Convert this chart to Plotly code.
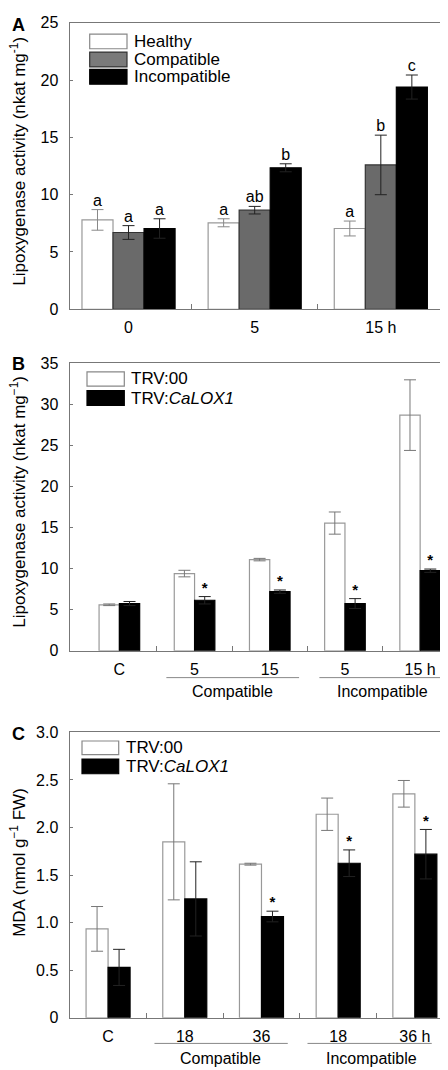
import plotly.graph_objects as go

# ---------------- data ----------------
a_cats = ["0", "5", "15 h"]
a_healthy = [7.8, 7.55, 7.05]
a_healthy_err = [0.9, 0.35, 0.65]
a_healthy_lbl = ["a", "a", "a"]
a_compat = [6.7, 8.65, 12.6]
a_compat_err = [0.6, 0.33, 2.6]
a_compat_lbl = ["a", "ab", "b"]
a_incomp = [7.05, 12.35, 19.4]
a_incomp_err = [0.85, 0.35, 1.05]
a_incomp_lbl = ["a", "b", "c"]

b_cats = ["C", "5", "15", "5", "15 h"]
b_trv00 = [5.6, 9.4, 11.1, 15.55, 28.7]
b_trv00_err = [0.1, 0.4, 0.15, 1.35, 4.3]
b_lox = [5.75, 6.15, 7.2, 5.75, 9.75]
b_lox_err = [0.25, 0.45, 0.2, 0.6, 0.2]
b_lox_sig = ["", "*", "*", "*", "*"]

c_cats = ["C", "18", "36", "18", "36 h"]
c_trv00 = [0.935, 1.85, 1.615, 2.14, 2.355]
c_trv00_err = [0.235, 0.61, 0.01, 0.17, 0.14]
c_lox = [0.53, 1.25, 1.065, 1.625, 1.72]
c_lox_err = [0.19, 0.39, 0.056, 0.14, 0.26]
c_lox_sig = ["", "", "*", "*", "*"]

group_names = ["Compatible", "Incompatible"]
y_titles = ["Lipoxygenase activity (nkat mg<sup>-1</sup>)",
            "Lipoxygenase activity (nkat mg<sup>−1</sup>)",
            "MDA (nmol g<sup>−1</sup> FW)"]

FONT = "Liberation Sans, Arial, Helvetica, sans-serif"
FS = 16
AX = "#777777"
WHITE_LINE = "#999999"
GRAY_FILL = "#6a6a6a"

fig = go.Figure()

def add_bars(xa, ya, xs, vals, errs, width, offset, fill, line, errcol):
    fig.add_trace(go.Bar(
        x=xs, y=vals, width=width, offset=offset,
        marker=dict(color=fill, line=dict(color=line, width=1.2)),
        error_y=dict(type="data", array=errs, visible=True, color=errcol,
                     thickness=1, width=6),
        xaxis=xa, yaxis=ya, showlegend=False, hoverinfo="skip"))

def add_text(xa, ya, xs, vals, errs, labels, dx, size=FS, bold=False):
    idx = [i for i, t in enumerate(labels) if t]
    fig.add_trace(go.Scatter(
        x=[xs[i] + dx for i in idx], y=[vals[i] + errs[i] for i in idx],
        text=[("<b>%s</b>" % labels[i]) if bold else labels[i] for i in idx],
        mode="text", textposition="top center",
        textfont=dict(family=FONT, size=size, color="black"),
        xaxis=xa, yaxis=ya, showlegend=False, hoverinfo="skip", cliponaxis=False))

# ---- Panel A ----
xa_pos = list(range(len(a_cats)))
wA = 0.246
add_bars("x", "y", xa_pos, a_healthy, a_healthy_err, wA, -1.5 * wA, "white", WHITE_LINE, "#888888")
add_bars("x", "y", xa_pos, a_compat, a_compat_err, wA, -0.5 * wA, GRAY_FILL, "#333333", "#222222")
add_bars("x", "y", xa_pos, a_incomp, a_incomp_err, wA, 0.5 * wA, "black", "black", "#222222")
add_text("x", "y", xa_pos, a_healthy, a_healthy_err, a_healthy_lbl, -wA)
add_text("x", "y", xa_pos, a_compat, a_compat_err, a_compat_lbl, 0)
add_text("x", "y", xa_pos, a_incomp, a_incomp_err, a_incomp_lbl, wA)

# ---- Panel B ----
xb_pos = list(range(len(b_cats)))
wB = 0.27
add_bars("x2", "y2", xb_pos, b_trv00, b_trv00_err, wB, -wB, "white", WHITE_LINE, "#777777")
add_bars("x2", "y2", xb_pos, b_lox, b_lox_err, wB, 0, "black", "black", "#222222")
add_text("x2", "y2", xb_pos, b_lox, b_lox_err, b_lox_sig, wB / 2, size=15, bold=True)

# ---- Panel C ----
xc_pos = list(range(len(c_cats)))
wC = 0.287
add_bars("x3", "y3", xc_pos, c_trv00, c_trv00_err, wC, -wC, "white", WHITE_LINE, "#777777")
add_bars("x3", "y3", xc_pos, c_lox, c_lox_err, wC, 0, "black", "black", "#222222")
add_text("x3", "y3", xc_pos, c_lox, c_lox_err, c_lox_sig, wC / 2, size=15, bold=True)

XDOM = [0.1395, 0.9955]
tickfont = dict(family=FONT, size=FS, color="black")

def xaxis(anchor, rng, pos, labels):
    return dict(domain=XDOM, anchor=anchor, range=rng, tickmode="array",
                tickvals=pos, ticktext=labels, ticks="", showgrid=False,
                zeroline=False, showline=True, linecolor=AX, linewidth=1,
                mirror=True, tickfont=tickfont, ticklabelstandoff=4,
                minor=dict(tickmode="array",
                           tickvals=[p + 0.5 for p in pos[:-1]],
                           ticks="inside", ticklen=5, tickcolor=AX))

def yaxis(anchor, dom, rng, tv, tt):
    return dict(domain=dom, anchor=anchor, range=rng, tickmode="array",
                tickvals=tv, ticktext=tt, ticks="inside", ticklen=3,
                tickcolor=AX, showgrid=False, zeroline=False, showline=True,
                linecolor=AX, linewidth=1, mirror=True, tickfont=tickfont,
                ticklabelstandoff=8)

YDOMS = [[0.7215, 0.99346], [0.3972, 0.67009], [0.0486, 0.31963]]

fig.update_layout(
    width=448, height=1070, margin=dict(l=0, r=0, t=0, b=0),
    plot_bgcolor="white", paper_bgcolor="white", barmode="overlay",
    font=dict(family=FONT, size=FS, color="black"), showlegend=False,
    xaxis=xaxis("y", [-0.46, 2.58], xa_pos, a_cats),
    xaxis2=xaxis("y2", [-0.65, 4.45], xb_pos, b_cats),
    xaxis3=xaxis("y3", [-0.49, 4.51], xc_pos, c_cats),
    yaxis=yaxis("x", YDOMS[0], [0, 25], [0, 5, 10, 15, 20, 25],
                ["0", "5", "10", "15", "20", "25"]),
    yaxis2=yaxis("x2", YDOMS[1], [0, 35], [0, 5, 10, 15, 20, 25, 30, 35],
                 ["0", "5", "10", "15", "20", "25", "30", "35"]),
    yaxis3=yaxis("x3", YDOMS[2], [0, 3], [0, 0.5, 1, 1.5, 2, 2.5, 3],
                 ["0", "0.5", "1.0", "1.5", "2.0", "2.5", "3.0"]),
)

H, W = 1070.0, 448.0
shapes = []
annotations = []

# y-axis titles (rotated)
for title, dom, shift in zip(y_titles, YDOMS, [5, 5, 13]):
    annotations.append(dict(xref="paper", yref="paper", x=10.5 / W,
                            y=(dom[0] + dom[1]) / 2 + shift / H, text=title,
                            textangle=-90, showarrow=False, xanchor="center",
                            yanchor="middle",
                            font=dict(family=FONT, size=17, color="black")))

def px_legend(x0, x1, rows):
    for (yt, yb, fill, line, text) in rows:
        shapes.append(dict(type="rect", xref="paper", yref="paper",
                           x0=x0 / W, x1=x1 / W, y0=1 - yb / H, y1=1 - yt / H,
                           fillcolor=fill, line=dict(color=line, width=1.2)))
        annotations.append(dict(xref="paper", yref="paper", x=(x1 + 5) / W,
                                y=1 - (yt + yb) / 2 / H, text=text, showarrow=False,
                                xanchor="left", yanchor="middle",
                                font=dict(family=FONT, size=17, color="black")))

px_legend(81.7, 119, [(18.5, 33.3, "white", "#888888", "Healthy"),
                      (36.7, 51.7, "#7a7a7a", "#333333", "Compatible"),
                      (54.3, 69.3, "black", "black", "Incompatible")])
px_legend(79, 116.3, [(361.7, 376, "white", "#888888", "TRV:00"),
                      (380.7, 395.7, "black", "black", "TRV:<i>CaLOX1</i>")])
px_legend(74, 110.7, [(736.7, 750.5, "white", "#888888", "TRV:00"),
                      (755, 770, "black", "black", "TRV:<i>CaLOX1</i>")])

for xr, ylin, ylab, segs, centers in [
        ("x2", 672.3, 686.7, [(0.625, 2.39), (2.66, 4.31)], [1.5, 3.5]),
        ("x3", 1044.0, 1059.3, [(0.605, 2.343), (2.60, 4.22)], [1.47, 3.43])]:
    for (s0, s1) in segs:
        shapes.append(dict(type="line", xref=xr, yref="paper", x0=s0, x1=s1,
                           y0=1 - ylin / H, y1=1 - ylin / H,
                           line=dict(color="#888888", width=1)))
    for name, cx in zip(group_names, centers):
        annotations.append(dict(xref=xr, yref="paper", x=cx, y=1 - ylab / H,
                                text=name, showarrow=False, xanchor="center",
                                yanchor="middle",
                                font=dict(family=FONT, size=FS, color="black")))

for letter, ypx in [("A", 9), ("B", 354), ("C", 730)]:
    annotations.append(dict(xref="paper", yref="paper", x=2 / W, y=1 - ypx / H,
                            text="<b>%s</b>" % letter, showarrow=False,
                            xanchor="left", yanchor="middle",
                            font=dict(family=FONT, size=18, color="black")))

fig.update_layout(shapes=shapes, annotations=annotations)
fig.write_html("out.html")
